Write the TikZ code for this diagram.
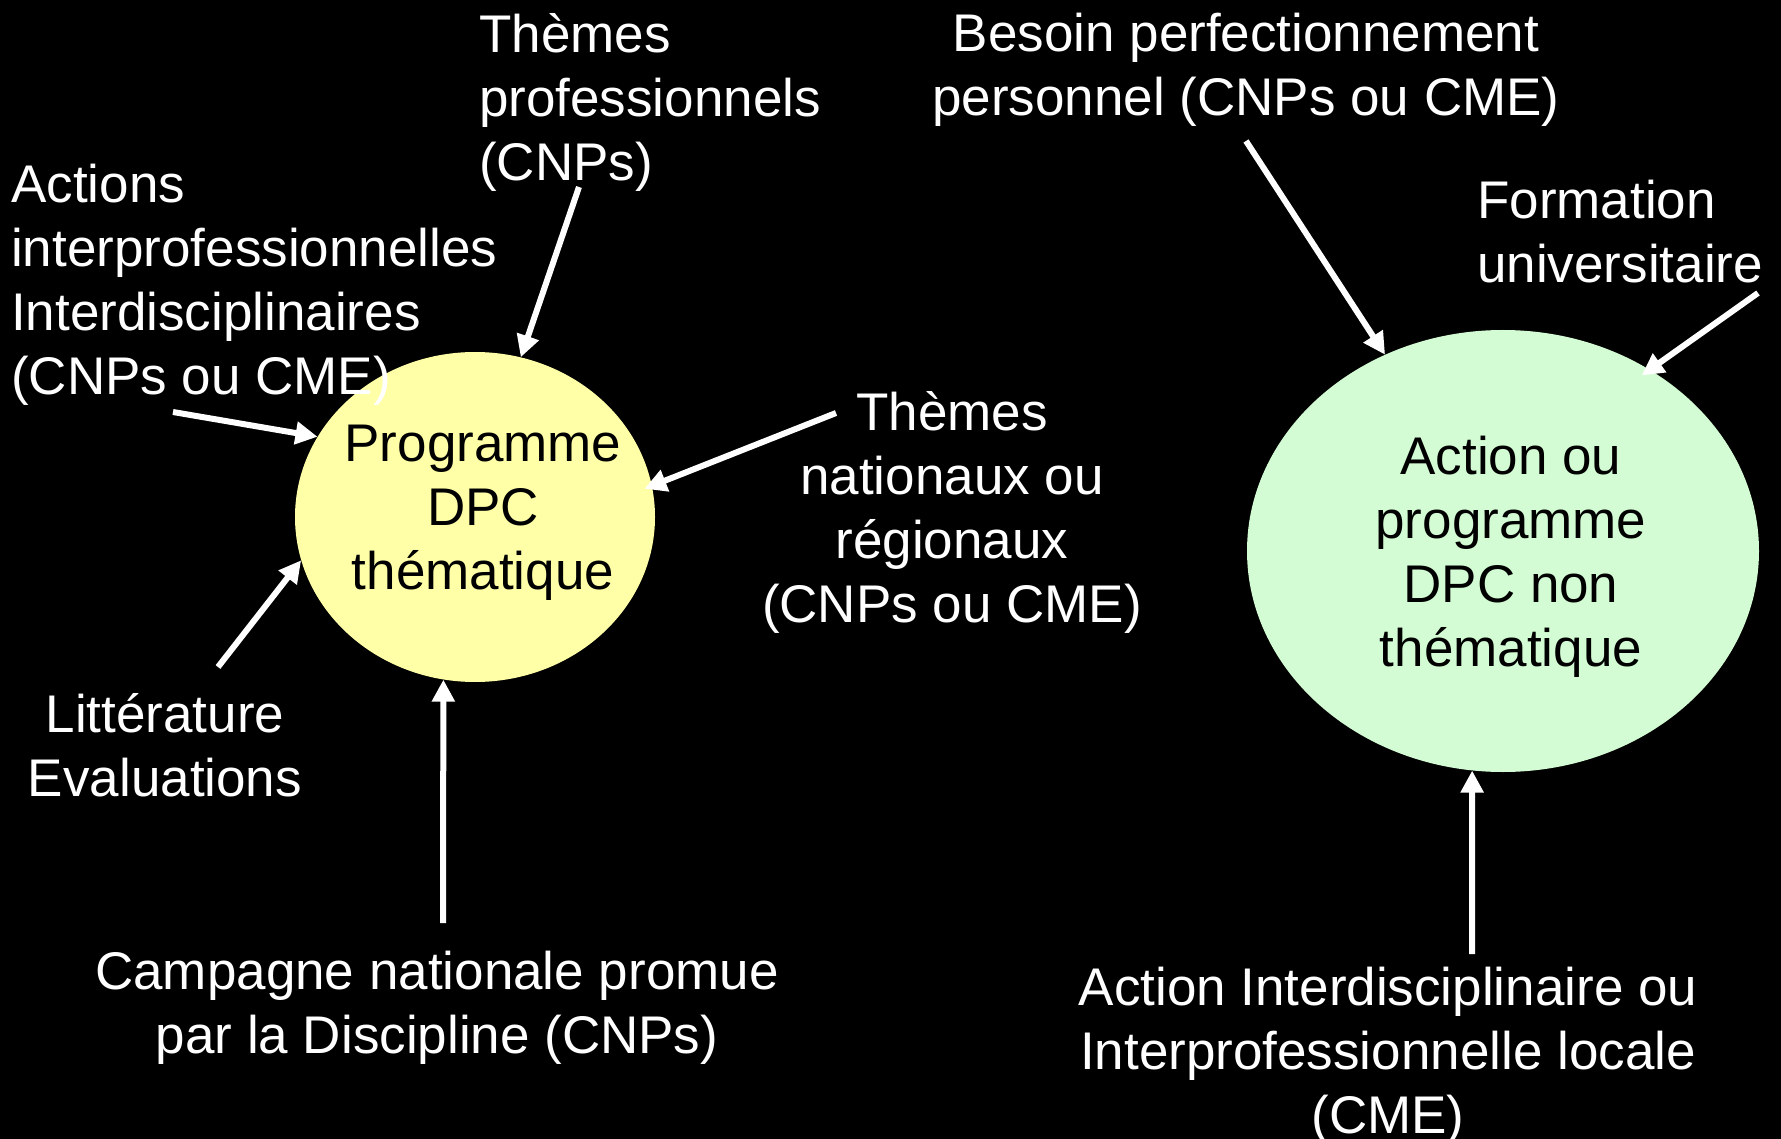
\documentclass[tikz,border=0pt]{standalone}
\usepackage{fontspec}
\setmainfont{Liberation Sans}
\usetikzlibrary{arrows.meta,shapes.geometric}
\definecolor{themefill}{HTML}{FFFFA8}
\definecolor{freefill}{HTML}{D4FCD4}

\begin{document}
\begin{tikzpicture}[x=1pt,y=-1pt,
  >={Triangle[length=22pt,width=22pt]},
  txt/.style={text=white,font=\fontsize{53}{64}\selectfont,inner sep=0pt},
  bubble/.style={ellipse,draw=none,inner sep=0pt},
  bubbletxt/.style={text=black,font=\fontsize{53}{64}\selectfont,align=center,inner sep=0pt},
  feed/.style={->,white,line width=6pt}]
  \useasboundingbox (0,0) rectangle (1781,1139);
  \fill[black] (0,0) rectangle (1781,1139);
  % the two programmes
  \node[bubble,fill=themefill,minimum width=360pt,minimum height=330pt] (prog) at (475,517) {};
  \node[bubbletxt] (progtxt) at ([xshift=8pt,yshift=4pt]prog.center) {Programme\\DPC\\thématique};
  \node[bubble,fill=freefill,minimum width=512pt,minimum height=442pt] (libre) at (1503,551) {};
  \node[bubbletxt] (libretxt) at ([xshift=8pt,yshift=-6pt]libre.center) {Action ou\\programme\\DPC non\\thématique};
  % sources
  \node[txt,anchor=west,align=left] (thprof) at (479,102) {Thèmes\\professionnels\\(CNPs)};
  \node[txt,anchor=west,align=left] (actions) at (11,285) {Actions\\interprofessionnelles\\Interdisciplinaires\\(CNPs ou CME)};
  \node[txt,align=center] (thnat) at (952,512) {Thèmes\\nationaux ou\\régionaux\\(CNPs ou CME)};
  \node[txt,align=center] (litt) at (165,745) {Littérature\\Evaluations};
  \node[txt,align=center] (camp) at (437,1008) {Campagne nationale promue\\par la Discipline (CNPs)};
  \node[txt,align=center] (besoin) at (1246,70) {Besoin perfectionnement\\personnel (CNPs ou CME)};
  \node[txt,anchor=west,align=left] (form) at (1477,232) {Formation\\universitaire};
  \node[txt,align=center] (local) at (1388,1056) {Action Interdisciplinaire ou\\Interprofessionnelle locale\\(CME)};
  % arrow tails
  \coordinate (thprof-t) at (579,187);
  \coordinate (actions-t) at (173,412);
  \coordinate (thnat-t) at (836,413);
  \coordinate (litt-t) at (218,667);
  \coordinate (camp-t) at (443,923);
  \coordinate (besoin-t) at (1246,141);
  \coordinate (form-t) at (1758,293);
  \coordinate (local-t) at (1472,954);
  \draw[feed] (thprof-t) -- (prog.74.6);
  \draw[feed] (actions-t) -- (prog.153.6);
  \draw[feed,shorten >=-8pt] (thnat-t) -- (prog.10.3);
  \draw[feed] (litt-t) -- (prog.194.3);
  \draw[feed] (camp-t) -- (prog.259);
  \draw[feed] (besoin-t) -- (libre.121.2);
  \draw[feed,shorten >=-10pt] (form-t) -- (libre.51.4);
  \draw[feed] (local-t) -- (libre.262.2);
\end{tikzpicture}
\end{document}
